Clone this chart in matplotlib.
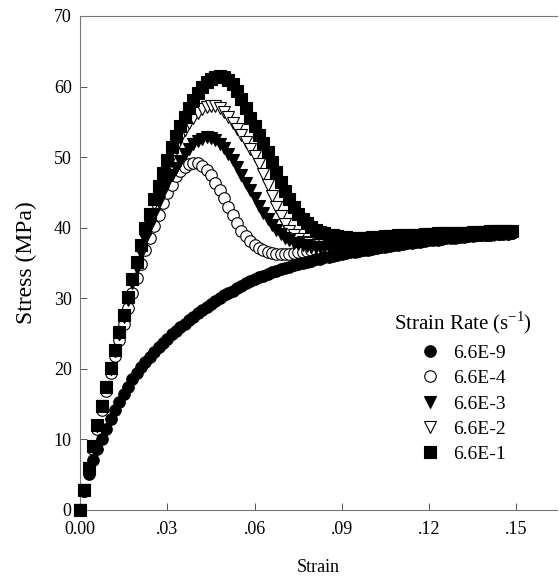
import numpy as np
import matplotlib.pyplot as plt

plt.rcParams['font.family'] = ['Liberation Serif', 'DejaVu Serif']
plt.rcParams['mathtext.fontset'] = 'custom'
plt.rcParams['mathtext.rm'] = 'Liberation Serif'

strain = [
    0.0000, 0.0015, 0.0030, 0.0045, 0.0060, 0.0075, 0.0090, 0.0105, 0.0120, 0.0135,
    0.0150, 0.0165, 0.0180, 0.0195, 0.0210, 0.0225, 0.0240, 0.0255, 0.0270, 0.0285,
    0.0300, 0.0315, 0.0330, 0.0345, 0.0360, 0.0375, 0.0390, 0.0405, 0.0420, 0.0435,
    0.0450, 0.0465, 0.0480, 0.0495, 0.0510, 0.0525, 0.0540, 0.0555, 0.0570, 0.0585,
    0.0600, 0.0615, 0.0630, 0.0645, 0.0660, 0.0675, 0.0690, 0.0705, 0.0720, 0.0735,
    0.0750, 0.0765, 0.0780, 0.0795, 0.0810, 0.0825, 0.0840, 0.0855, 0.0870, 0.0885,
    0.0900, 0.0915, 0.0930, 0.0945, 0.0960, 0.0975, 0.0990, 0.1005, 0.1020, 0.1035,
    0.1050, 0.1065, 0.1080, 0.1095, 0.1110, 0.1125, 0.1140, 0.1155, 0.1170, 0.1185,
    0.1200, 0.1215, 0.1230, 0.1245, 0.1260, 0.1275, 0.1290, 0.1305, 0.1320, 0.1335,
    0.1350, 0.1365, 0.1380, 0.1395, 0.1410, 0.1425, 0.1440, 0.1455, 0.1470, 0.1485,
]

# stress (MPa) for each strain rate
stress_6e9 = [
    0.0, 2.7, 5.1, 7.1, 8.7, 10.1, 11.5, 12.9, 14.2, 15.3,
    16.4, 17.5, 18.5, 19.4, 20.2, 21.0, 21.7, 22.4, 23.1, 23.7,
    24.3, 24.9, 25.4, 25.9, 26.4, 26.9, 27.4, 27.9, 28.4, 28.8,
    29.2, 29.6, 30.0, 30.4, 30.8, 31.1, 31.5, 31.8, 32.1, 32.4,
    32.7, 33.0, 33.2, 33.5, 33.7, 33.9, 34.1, 34.3, 34.5, 34.7,
    34.9, 35.0, 35.2, 35.3, 35.5, 35.6, 35.8, 35.9, 36.0, 36.2,
    36.3, 36.4, 36.5, 36.6, 36.7, 36.8, 36.9, 37.0, 37.1, 37.2,
    37.3, 37.4, 37.5, 37.6, 37.7, 37.8, 37.9, 38.0, 38.0, 38.1,
    38.2, 38.3, 38.3, 38.4, 38.5, 38.5, 38.6, 38.7, 38.7, 38.8,
    38.8, 38.9, 38.9, 39.0, 39.0, 39.1, 39.1, 39.2, 39.2, 39.3,
]
stress_6e4 = [
    0.0, 2.7, 5.7, 8.6, 11.5, 14.2, 16.9, 19.4, 21.8, 24.1,
    26.3, 28.6, 30.8, 32.9, 34.9, 36.8, 38.5, 40.2, 41.8, 43.5,
    44.9, 46.1, 47.3, 48.0, 48.6, 49.0, 49.2, 49.1, 48.8, 48.2,
    47.4, 46.4, 45.3, 44.2, 43.0, 41.8, 40.6, 39.6, 38.8, 38.1,
    37.5, 37.1, 36.8, 36.6, 36.4, 36.3, 36.3, 36.3, 36.3, 36.4,
    36.5, 36.6, 36.7, 36.8, 36.9, 37.0, 37.1, 37.2, 37.3, 37.4,
    37.5, 37.5, 37.6, 37.7, 37.7, 37.8, 37.9, 37.9, 38.0, 38.0,
    38.1, 38.1, 38.2, 38.2, 38.3, 38.3, 38.4, 38.4, 38.5, 38.5,
    38.6, 38.6, 38.6, 38.7, 38.7, 38.8, 38.8, 38.8, 38.9, 38.9,
    38.9, 39.0, 39.0, 39.0, 39.0, 39.1, 39.1, 39.1, 39.1, 39.2,
]
stress_6e3 = [
    0.0, 2.8, 5.9, 8.9, 11.9, 14.7, 17.4, 20.0, 22.5, 25.0,
    27.4, 29.8, 32.1, 34.3, 36.4, 38.4, 40.3, 42.0, 43.6, 45.0,
    46.3, 47.5, 48.5, 49.5, 50.4, 51.2, 51.8, 52.3, 52.6, 52.8,
    52.7, 52.4, 51.9, 51.3, 50.5, 49.6, 48.6, 47.5, 46.4, 45.3,
    44.2, 43.1, 42.1, 41.2, 40.4, 39.7, 39.1, 38.6, 38.2, 37.9,
    37.7, 37.5, 37.4, 37.3, 37.3, 37.3, 37.3, 37.3, 37.4, 37.4,
    37.5, 37.5, 37.6, 37.6, 37.7, 37.7, 37.8, 37.8, 37.9, 37.9,
    38.0, 38.0, 38.1, 38.1, 38.2, 38.2, 38.3, 38.3, 38.4, 38.4,
    38.5, 38.5, 38.6, 38.6, 38.7, 38.7, 38.7, 38.8, 38.8, 38.8,
    38.9, 38.9, 38.9, 39.0, 39.0, 39.0, 39.1, 39.1, 39.1, 39.2,
]
stress_6e2 = [
    0.0, 2.8, 5.9, 8.9, 11.9, 14.7, 17.4, 20.0, 22.5, 25.0,
    27.5, 30.0, 32.4, 34.7, 37.0, 39.2, 41.3, 43.3, 45.1, 46.9,
    48.5, 50.0, 51.4, 52.7, 53.8, 54.8, 55.6, 56.3, 56.8, 57.1,
    57.3, 57.2, 56.9, 56.4, 55.7, 54.9, 54.0, 53.1, 52.2, 51.2,
    50.2, 49.0, 47.6, 46.1, 44.5, 42.9, 41.6, 40.5, 39.6, 38.9,
    38.4, 38.0, 37.8, 37.6, 37.5, 37.5, 37.5, 37.5, 37.5, 37.6,
    37.6, 37.7, 37.7, 37.8, 37.8, 37.9, 37.9, 38.0, 38.0, 38.1,
    38.1, 38.2, 38.2, 38.3, 38.3, 38.4, 38.4, 38.5, 38.5, 38.6,
    38.6, 38.7, 38.7, 38.7, 38.8, 38.8, 38.8, 38.9, 38.9, 38.9,
    39.0, 39.0, 39.0, 39.1, 39.1, 39.1, 39.1, 39.2, 39.2, 39.2,
]
stress_6e1 = [
    0.0, 2.8, 5.9, 9.0, 12.0, 14.8, 17.5, 20.1, 22.7, 25.2,
    27.7, 30.2, 32.7, 35.2, 37.6, 39.9, 42.0, 44.0, 45.9, 47.8,
    49.6, 51.4, 53.0, 54.4, 55.7, 57.0, 58.1, 59.1, 59.9, 60.6,
    61.1, 61.4, 61.5, 61.3, 60.9, 60.3, 59.4, 58.3, 57.0, 55.6,
    54.4, 53.2, 52.0, 50.7, 49.3, 47.9, 46.5, 45.2, 44.0, 42.9,
    42.0, 41.2, 40.6, 40.1, 39.7, 39.4, 39.2, 39.0, 38.9, 38.8,
    38.7, 38.7, 38.6, 38.6, 38.6, 38.6, 38.6, 38.7, 38.7, 38.7,
    38.8, 38.8, 38.8, 38.9, 38.9, 38.9, 39.0, 39.0, 39.0, 39.1,
    39.1, 39.1, 39.2, 39.2, 39.2, 39.2, 39.3, 39.3, 39.3, 39.3,
    39.4, 39.4, 39.4, 39.4, 39.5, 39.5, 39.5, 39.5, 39.5, 39.6,
]

labels = ["6.6E-9", "6.6E-4", "6.6E-3", "6.6E-2", "6.6E-1"]
x_ticks = [0.0, 0.03, 0.06, 0.09, 0.12, 0.15]
x_ticklabels = ["0.00", ".03", ".06", ".09", ".12", ".15"]
y_ticks = [0, 10, 20, 30, 40, 50, 60, 70]

fig = plt.figure(figsize=(5.59, 5.82), dpi=100)
ax = fig.add_axes([80 / 559, 1 - 510 / 582, 477 / 559, 494 / 582])

ms = 8.3
styles = [
    dict(marker="o", mfc="black", mec="black", zorder=6),
    dict(marker="o", mfc="white", mec="black", zorder=2),
    dict(marker="v", mfc="black", mec="black", zorder=4),
    dict(marker="v", mfc="white", mec="black", zorder=3),
    dict(marker="s", mfc="black", mec="black", zorder=5),
]
series = [stress_6e9, stress_6e4, stress_6e3, stress_6e2, stress_6e1]
for y, lab, st in zip(series, labels, styles):
    ax.plot(strain, y, linestyle="none", ms=ms, mew=0.8, label=lab,
            clip_on=False, **st)

ax.set_xlim(0, 0.164)
ax.set_ylim(0, 70)
ax.set_xticks(x_ticks)
ax.set_xticklabels(x_ticklabels)
ax.set_yticks(y_ticks)
ax.tick_params(direction="in", length=5, width=0.7, color="#555555",
               labelsize=13)
ax.tick_params(axis="x", pad=8)
ax.tick_params(axis="y", pad=6)

for side in ["left", "bottom", "top"]:
    ax.spines[side].set_color("#777777")
    ax.spines[side].set_linewidth(0.8)
ax.spines["right"].set_visible(False)

ax.set_xlabel("Strain", fontsize=13, labelpad=15)
ax.set_ylabel("Stress (MPa)", fontsize=17, labelpad=12)

leg = ax.legend(loc="center", bbox_to_anchor=(0.803, 0.25), frameon=False,
                title=r"Strain Rate (s$^{\mathrm{-1}}$)", fontsize=14,
                title_fontsize=15, handlelength=1.0, handletextpad=0.7,
                labelspacing=0.4, markerscale=1.0)

plt.savefig("out.png", dpi=100)
plt.close()
